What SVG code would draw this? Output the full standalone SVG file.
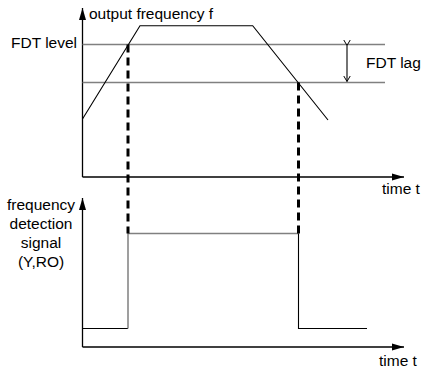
<svg xmlns="http://www.w3.org/2000/svg" width="422" height="369" viewBox="0 0 422 369">
<defs>
<style>
text{font-family:"Liberation Sans",Arial,sans-serif;font-size:15.5px;fill:#000}
.ax{stroke:#000;stroke-width:1.3;fill:none}
.ln{stroke:#000;stroke-width:1.1;fill:none}
.gr{stroke:#808080;stroke-width:1.5;fill:none}
.ds{stroke:#000;stroke-width:3;stroke-dasharray:8,5;fill:none}
</style>
<marker id="ah" viewBox="0 0 12 8" refX="12" refY="4" markerWidth="12" markerHeight="8" markerUnits="userSpaceOnUse" orient="auto">
<path d="M0,0.5 L12,4 L0,7.5 Z" fill="#000"/>
</marker>
<marker id="oa" viewBox="0 0 6 8" refX="6" refY="4" markerWidth="6" markerHeight="8" markerUnits="userSpaceOnUse" orient="auto">
<path d="M0,0.5 L6,4 L0,7.5" fill="none" stroke="#000" stroke-width="1"/>
</marker>
</defs>
<g id="top-axes">
<line class="ax" x1="82.5" y1="177" x2="82.5" y2="8" marker-end="url(#ah)"/>
<line class="ax" x1="82.5" y1="177" x2="404" y2="177" marker-end="url(#ah)"/>
<text x="89" y="19">output frequency f</text>
<text x="382" y="194">time t</text>
</g>
<g id="fdt-lines">
<line class="gr" x1="82.5" y1="44.5" x2="385" y2="44.5"/>
<line class="gr" x1="82.5" y1="82.5" x2="385" y2="82.5"/>
<text x="11" y="48">FDT level</text>
<line class="ln" x1="347" y1="45.5" x2="347" y2="81.5" marker-start="url(#oa)" marker-end="url(#oa)"/>
<text x="366" y="68">FDT lag</text>
</g>
<g id="frequency-curve">
<polyline class="ln" points="82.5,119 140,25.7 252.7,25.7 328,120"/>
</g>
<g id="bottom-axes">
<line class="ax" x1="82.5" y1="347" x2="82.5" y2="198" marker-end="url(#ah)"/>
<line class="ax" x1="82.5" y1="347" x2="404" y2="347" marker-end="url(#ah)"/>
<text x="41" y="210" text-anchor="middle">frequency</text>
<text x="41" y="229" text-anchor="middle">detection</text>
<text x="41" y="248" text-anchor="middle">signal</text>
<text x="41" y="267" text-anchor="middle">(Y,RO)</text>
<text x="379" y="366">time t</text>
</g>
<g id="detection-signal">
<polyline class="ln" points="82.5,328.5 128,328.5"/>
<polyline class="gr" points="128,328.5 128,233.5 298.5,233.5"/>
<polyline class="ln" points="298.5,233.5 298.5,328.5 367,328.5"/>
</g>
<g id="connectors">
<line class="ds" x1="128" y1="44.5" x2="128" y2="233.5"/>
<line class="ds" x1="298.5" y1="82.5" x2="298.5" y2="233.5"/>
</g>
</svg>
